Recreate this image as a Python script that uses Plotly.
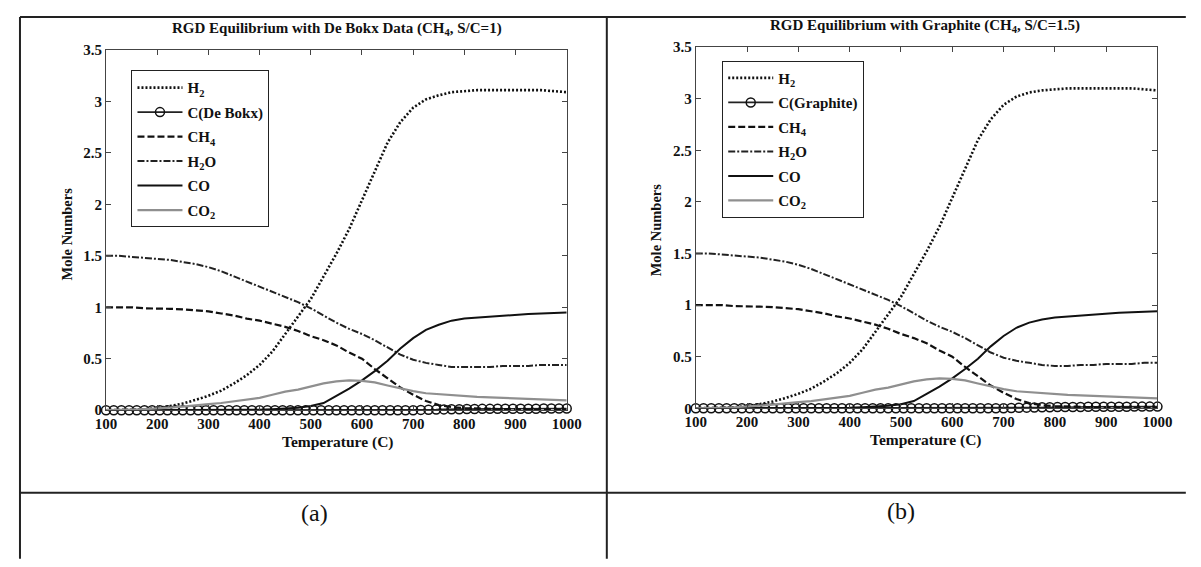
import plotly.graph_objects as go

# ---------------- data ----------------
T = list(range(100, 1001, 25))
T_c = list(range(100, 1001, 15))

# panel (a)  De Bokx carbon, S/C=1
a_H2 = [0.0, 0.0, 0.005, 0.01, 0.02, 0.04, 0.065, 0.10, 0.14, 0.19, 0.26, 0.34, 0.44,
        0.57, 0.74, 0.90, 1.08, 1.30, 1.52, 1.76, 2.04, 2.33, 2.60, 2.80, 2.94, 3.02,
        3.06, 3.09, 3.10, 3.11, 3.11, 3.11, 3.11, 3.11, 3.11, 3.10, 3.09]
a_C = [0.0, 0.0, 0.0, 0.0, 0.0, 0.0, 0.0, 0.0, 0.0, 0.0,
       0.0, 0.0, 0.0, 0.0, 0.0, 0.0, 0.0, 0.0, 0.0, 0.0,
       0.0, 0.0, 0.0, 0.0, 0.0, 0.0, 0.0, 0.0, 0.0, 0.0,
       0.0, 0.0, 0.0, 0.0, 0.0, 0.0, 0.0, 0.0, 0.0, 0.0,
       0.0, 0.003, 0.005, 0.006, 0.008, 0.01, 0.01, 0.012, 0.012, 0.013,
       0.013, 0.014, 0.014, 0.015, 0.015, 0.015, 0.015, 0.016, 0.016, 0.016,
       0.016]
a_CH4 = [1.00, 1.00, 1.00, 0.99, 0.99, 0.985, 0.98, 0.97, 0.96, 0.94, 0.92, 0.89, 0.87,
         0.84, 0.81, 0.77, 0.72, 0.68, 0.63, 0.56, 0.50, 0.40, 0.31, 0.22, 0.15, 0.09,
         0.05, 0.03, 0.02, 0.015, 0.01, 0.01, 0.01, 0.005, 0.005, 0.005, 0.005]
a_H2O = [1.50, 1.50, 1.49, 1.48, 1.47, 1.46, 1.44, 1.42, 1.39, 1.35, 1.30, 1.25, 1.20,
         1.15, 1.10, 1.05, 0.99, 0.92, 0.85, 0.79, 0.74, 0.68, 0.61, 0.54, 0.49, 0.46,
         0.44, 0.42, 0.42, 0.42, 0.42, 0.43, 0.43, 0.43, 0.44, 0.44, 0.44]
a_CO = [0.0, 0.0, 0.0, 0.0, 0.0, 0.0, 0.0, 0.0, 0.0, 0.0, 0.0, 0.0, 0.005,
        0.01, 0.015, 0.025, 0.04, 0.07, 0.14, 0.21, 0.29, 0.38, 0.48, 0.60, 0.70, 0.78,
        0.83, 0.87, 0.89, 0.90, 0.91, 0.92, 0.93, 0.935, 0.94, 0.945, 0.95]
a_CO2 = [0.0, 0.0, 0.005, 0.01, 0.015, 0.025, 0.035, 0.05, 0.06, 0.07, 0.085, 0.10, 0.12,
         0.15, 0.18, 0.20, 0.23, 0.26, 0.28, 0.29, 0.285, 0.27, 0.24, 0.21, 0.185, 0.165,
         0.155, 0.145, 0.135, 0.13, 0.125, 0.12, 0.115, 0.11, 0.105, 0.10, 0.095]

# panel (b)  Graphite, S/C=1.5
b_H2 = [0.0, 0.0, 0.005, 0.01, 0.02, 0.04, 0.065, 0.10, 0.14, 0.19, 0.26, 0.34, 0.44,
        0.57, 0.74, 0.90, 1.08, 1.30, 1.52, 1.76, 2.04, 2.33, 2.60, 2.80, 2.94, 3.02,
        3.06, 3.08, 3.09, 3.10, 3.10, 3.10, 3.10, 3.10, 3.10, 3.09, 3.08]
b_C = [0.0, 0.0, 0.0, 0.0, 0.0, 0.0, 0.0, 0.0, 0.0, 0.0,
       0.0, 0.0, 0.0, 0.0, 0.0, 0.0, 0.0, 0.0, 0.0, 0.0,
       0.0, 0.0, 0.0, 0.0, 0.0, 0.0, 0.0, 0.0, 0.0, 0.0,
       0.0, 0.0, 0.0, 0.0, 0.0, 0.0, 0.0, 0.0, 0.0, 0.0,
       0.0, 0.003, 0.005, 0.006, 0.008, 0.01, 0.01, 0.012, 0.012, 0.013,
       0.013, 0.014, 0.014, 0.015, 0.015, 0.015, 0.015, 0.016, 0.016, 0.016,
       0.016]
b_CH4 = [1.00, 1.00, 1.00, 0.99, 0.99, 0.985, 0.98, 0.97, 0.96, 0.94, 0.92, 0.89, 0.87,
         0.84, 0.81, 0.77, 0.72, 0.68, 0.63, 0.56, 0.50, 0.40, 0.31, 0.22, 0.15, 0.09,
         0.05, 0.03, 0.02, 0.015, 0.01, 0.01, 0.01, 0.005, 0.005, 0.005, 0.005]
b_H2O = [1.50, 1.50, 1.49, 1.48, 1.47, 1.46, 1.44, 1.42, 1.39, 1.35, 1.30, 1.25, 1.20,
         1.15, 1.10, 1.05, 0.99, 0.92, 0.85, 0.79, 0.74, 0.68, 0.61, 0.54, 0.49, 0.46,
         0.44, 0.42, 0.41, 0.41, 0.42, 0.42, 0.43, 0.43, 0.43, 0.44, 0.44]
b_CO = [0.0, 0.0, 0.0, 0.0, 0.0, 0.0, 0.0, 0.0, 0.0, 0.0, 0.0, 0.0, 0.005,
        0.01, 0.015, 0.025, 0.04, 0.07, 0.14, 0.21, 0.29, 0.38, 0.48, 0.60, 0.70, 0.78,
        0.83, 0.86, 0.88, 0.89, 0.90, 0.91, 0.92, 0.925, 0.93, 0.935, 0.94]
b_CO2 = [0.0, 0.0, 0.005, 0.01, 0.015, 0.025, 0.035, 0.05, 0.06, 0.07, 0.085, 0.10, 0.12,
         0.15, 0.18, 0.20, 0.23, 0.26, 0.28, 0.29, 0.285, 0.27, 0.24, 0.21, 0.185, 0.165,
         0.155, 0.145, 0.135, 0.13, 0.125, 0.12, 0.115, 0.11, 0.105, 0.10, 0.095]

x_ticks = [100, 200, 300, 400, 500, 600, 700, 800, 900, 1000]
y_ticks = [0, 0.5, 1, 1.5, 2, 2.5, 3, 3.5]

titles = ["RGD Equilibrium with De Bokx Data (CH<sub>4</sub>, S/C=1)",
          "RGD Equilibrium with Graphite (CH<sub>4</sub>, S/C=1.5)"]
carbon_names = ["C(De Bokx)", "C(Graphite)"]
captions = ["(a)", "(b)"]

# ---------------- figure ----------------
# page body keeps its default 8px margin, so the figure is 16px smaller
OFF = 8
W, H = 1201 - 2 * OFF, 567 - 2 * OFF
def px(x):
    return (x - OFF) / W
def py(y):
    return 1 - (y - OFF) / H

SERIF = "Liberation Serif"
fig = go.Figure()

panels = [
    dict(data=[a_H2, a_C, a_CH4, a_H2O, a_CO, a_CO2], xa="x", ya="y", leg="legend"),
    dict(data=[b_H2, b_C, b_CH4, b_H2O, b_CO, b_CO2], xa="x2", ya="y2", leg="legend2"),
]
styles = [
    dict(name="H<sub>2</sub>", line=dict(color="#111", width=2.6, dash="2px,2px"), mode="lines"),
    dict(name=None, line=dict(color="#222", width=1.6), mode="lines+markers"),
    dict(name="CH<sub>4</sub>", line=dict(color="#111", width=2.2, dash="7px,3px"), mode="lines"),
    dict(name="H<sub>2</sub>O", line=dict(color="#222", width=2.0, dash="7px,2px,2px,2px"), mode="lines"),
    dict(name="CO", line=dict(color="#111", width=2.0), mode="lines"),
    dict(name="CO<sub>2</sub>", line=dict(color="#8f8f8f", width=2.2), mode="lines"),
]

for pi, p in enumerate(panels):
    for si, (vals, st) in enumerate(zip(p["data"], styles)):
        name = st["name"] if st["name"] else carbon_names[pi]
        xs = T_c if si == 1 else T
        kw = dict(x=xs, y=vals, name=name, mode=st["mode"], line=st["line"],
                  xaxis=p["xa"], yaxis=p["ya"], legend=p["leg"],
                  legendgroup=f"g{pi}{si}")
        if "markers" in st["mode"]:
            kw["marker"] = dict(symbol="circle-open", size=9, color="#111",
                                line=dict(width=1.5, color="#111"))
            kw["cliponaxis"] = False
        fig.add_trace(go.Scatter(**kw))

axis_common = dict(showgrid=False, zeroline=False, showline=True, linecolor="#444",
                   linewidth=1, mirror="ticks", ticks="inside", ticklen=5,
                   tickcolor="#444", tickfont=dict(family=SERIF, size=15, color="#111",
                                                   weight="bold"))
fig.update_layout(
    xaxis=dict(domain=[px(97), px(568)], range=[100, 1000], tickvals=x_ticks,
               anchor="y", **axis_common),
    yaxis=dict(domain=[py(414), py(43)], range=[0, 3.5], tickvals=y_ticks,
               anchor="x", **axis_common),
    xaxis2=dict(domain=[px(700), px(1172)], range=[100, 1000], tickvals=x_ticks,
                anchor="y2", **axis_common),
    yaxis2=dict(domain=[py(412), py(40)], range=[0, 3.5], tickvals=y_ticks,
                anchor="x2", **axis_common),
)

legend_common = dict(xanchor="left", yanchor="top", bordercolor="#222", borderwidth=1,
                     bgcolor="white", traceorder="grouped", tracegroupgap=2,
                     itemwidth=45,
                     font=dict(family=SERIF, size=15, color="#111", weight="bold"))
fig.update_layout(
    legend=dict(x=px(123), y=py(64), **legend_common),
    legend2=dict(x=px(727), y=py(54), **legend_common),
)

ann = []
for cx, cy, t in [(333, 21, titles[0]), (934, 18, titles[1])]:
    ann.append(dict(x=px(cx), y=py(cy), xref="paper", yref="paper", text=t,
                    showarrow=False, xanchor="center", yanchor="middle",
                    font=dict(family=SERIF, size=15, color="#111", weight="bold")))
for cx, cy in [(334, 447), (935, 445)]:
    ann.append(dict(x=px(cx), y=py(cy), xref="paper", yref="paper", text="Temperature (C)",
                    showarrow=False, xanchor="center", yanchor="middle",
                    font=dict(family=SERIF, size=15.5, color="#111", weight="bold")))
for cx, cy in [(58, 232), (659, 228)]:
    ann.append(dict(x=px(cx), y=py(cy), xref="paper", yref="paper", text="Mole Numbers",
                    showarrow=False, xanchor="center", yanchor="middle", textangle=-90,
                    font=dict(family=SERIF, size=14.5, color="#111", weight="bold")))
for cx, cy, t in [(310, 520, captions[0]), (910, 518, captions[1])]:
    ann.append(dict(x=px(cx), y=py(cy), xref="paper", yref="paper", text=t,
                    showarrow=False, xanchor="center", yanchor="middle",
                    font=dict(family=SERIF, size=24, color="#111")))

shapes = []
for x0, y0, x1, y1 in [(9, 9, 1201, 9), (9, 9, 9, 567), (609, 9, 609, 567), (9, 499, 1201, 499)]:
    shapes.append(dict(type="line", xref="paper", yref="paper",
                       x0=px(x0), y0=py(y0), x1=px(x1), y1=py(y1),
                       line=dict(color="#222", width=2)))

fig.update_layout(
    width=W, height=H, autosize=False,
    margin=dict(l=0, r=0, t=0, b=0),
    paper_bgcolor="white", plot_bgcolor="white",
    annotations=ann, shapes=shapes,
)

fig.write_html("out.html", config={"displayModeBar": False})
